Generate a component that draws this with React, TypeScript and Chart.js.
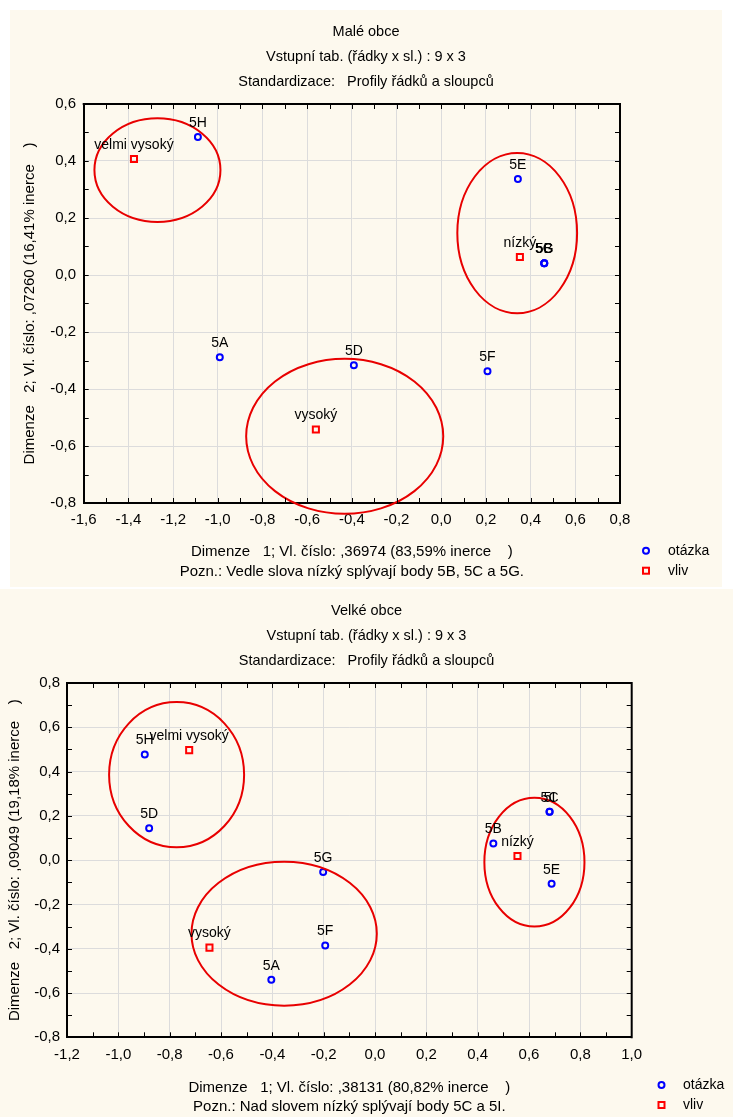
import React, { useEffect, useRef } from 'react';
import { Chart, registerables } from 'chart.js';

Chart.register(...registerables);

const FONT = "'Liberation Sans', Arial, Helvetica, sans-serif";

// ---------- Malé obce (top chart) ----------
const smallTitle = ['Malé obce', 'Vstupní tab. (řádky x sl.) : 9 x 3', 'Standardizace:   Profily řádků a sloupců'];
const smallXTitle = ['Dimenze   1; Vl. číslo: ,36974 (83,59% inerce    )', 'Pozn.: Vedle slova nízký splývají body 5B, 5C a 5G.'];
const smallYTitle = 'Dimenze   2; Vl. číslo: ,07260 (16,41% inerce    )';
const smallQuestionLabels = ['5A', '5B', '5C', '5D', '5E', '5F', '5G', '5H'];
const smallQuestionX = [-0.991, 0.461, 0.461, -0.391, 0.343, 0.207, 0.461, -1.089];
const smallQuestionY = [-0.289, 0.041, 0.041, -0.317, 0.337, -0.338, 0.041, 0.484];
const smallInfluenceLabels = ['velmi vysoký', 'vysoký', 'nízký'];
const smallInfluenceX = [-1.375, -0.561, 0.352];
const smallInfluenceY = [0.407, -0.542, 0.063];
const smallEllipseCx = [-1.27, 0.34, -0.432];
const smallEllipseCy = [0.368, 0.147, -0.566];
const smallEllipseRx = [0.282, 0.268, 0.441];
const smallEllipseRy = [0.182, 0.281, 0.272];
const smallXRange = [-1.6, 0.8];
const smallYRange = [-0.8, 0.6];

// ---------- Velké obce (bottom chart) ----------
const bigTitle = ['Velké obce', 'Vstupní tab. (řádky x sl.) : 9 x 3', 'Standardizace:   Profily řádků a sloupců'];
const bigXTitle = ['Dimenze   1; Vl. číslo: ,38131 (80,82% inerce    )', 'Pozn.: Nad slovem nízký splývají body 5C a 5I.'];
const bigYTitle = 'Dimenze   2; Vl. číslo: ,09049 (19,18% inerce    )';
const bigQuestionLabels = ['5A', '5B', '5C', '5D', '5E', '5F', '5G', '5H', '5I'];
const bigQuestionX = [-0.404, 0.461, 0.68, -0.88, 0.688, -0.194, -0.202, -0.897, 0.68];
const bigQuestionY = [-0.54, 0.075, 0.219, 0.144, -0.107, -0.386, -0.053, 0.477, 0.219];
const bigInfluenceLabels = ['velmi vysoký', 'vysoký', 'nízký'];
const bigInfluenceX = [-0.724, -0.645, 0.555];
const bigInfluenceY = [0.497, -0.395, 0.019];
const bigEllipseCx = [-0.773, 0.621, -0.354];
const bigEllipseCy = [0.386, -0.009, -0.332];
const bigEllipseRx = [0.263, 0.195, 0.361];
const bigEllipseRy = [0.328, 0.291, 0.325];
const bigXRange = [-1.2, 1.0];
const bigYRange = [-0.8, 0.8];

const legendNames = ['otázka', 'vliv'];

const CREAM = '#fdf9ee';
const BLUE = '#0000ff';
const RED = '#ff0000';
const ELLIPSE_RED = '#e80000';

function fmt(v: number | string) {
  const n = Number(v);
  if (Math.abs(n) < 1e-9) return '0,0';
  return n.toFixed(1).replace('.', ',');
}

const decorPlugin = {
  id: 'decor',
  afterDatasetsDraw(chart: any, _args: any, opts: any) {
    const { ctx, chartArea } = chart;
    const { left, right, top, bottom } = chartArea;
    const xs = chart.scales.x;
    const ys = chart.scales.y;
    ctx.save();

    // ellipses
    ctx.strokeStyle = ELLIPSE_RED;
    ctx.lineWidth = 2;
    const e = opts.ellipses;
    for (let i = 0; i < e.cx.length; i++) {
      const cx = xs.getPixelForValue(e.cx[i]);
      const cy = ys.getPixelForValue(e.cy[i]);
      const rx = Math.abs(xs.getPixelForValue(e.cx[i] + e.rx[i]) - cx);
      const ry = Math.abs(ys.getPixelForValue(e.cy[i] + e.ry[i]) - cy);
      ctx.beginPath();
      ctx.ellipse(cx, cy, rx, ry, 0, 0, Math.PI * 2);
      ctx.stroke();
    }

    // frame (top & right)
    ctx.strokeStyle = '#000';
    ctx.lineWidth = 2;
    ctx.beginPath();
    ctx.moveTo(left - 1, top);
    ctx.lineTo(right, top);
    ctx.lineTo(right, bottom + 1);
    ctx.stroke();

    // inner ticks every 0.1
    ctx.lineWidth = 1;
    ctx.beginPath();
    const nx = Math.round((xs.max - xs.min) / 0.1);
    for (let i = 1; i < nx; i++) {
      const px = Math.round(xs.getPixelForValue(xs.min + i * 0.1)) + 0.5;
      ctx.moveTo(px, top);
      ctx.lineTo(px, top + 5);
      ctx.moveTo(px, bottom);
      ctx.lineTo(px, bottom - 5);
    }
    const ny = Math.round((ys.max - ys.min) / 0.1);
    for (let i = 1; i < ny; i++) {
      const py = Math.round(ys.getPixelForValue(ys.min + i * 0.1)) + 0.5;
      ctx.moveTo(left, py);
      ctx.lineTo(left + 5, py);
      ctx.moveTo(right, py);
      ctx.lineTo(right - 5, py);
    }
    ctx.stroke();

    // point labels
    ctx.fillStyle = '#000';
    ctx.font = `14px ${FONT}`;
    ctx.textAlign = 'center';
    ctx.textBaseline = 'middle';
    chart.data.datasets.forEach((ds: any, di: number) => {
      const meta = chart.getDatasetMeta(di);
      meta.data.forEach((pt: any, j: number) => {
        ctx.fillText(ds.pointNames[j], pt.x, pt.y - 14);
      });
    });

    // legend
    const lx = right + opts.legendDx;
    const ly1 = bottom + opts.legendDy1;
    const ly2 = bottom + opts.legendDy2;
    ctx.lineWidth = 2;
    ctx.strokeStyle = BLUE;
    ctx.beginPath();
    ctx.arc(lx, ly1, 3, 0, Math.PI * 2);
    ctx.stroke();
    ctx.strokeStyle = RED;
    ctx.strokeRect(lx - 3, ly2 - 3, 6, 6);
    ctx.textAlign = 'left';
    ctx.fillStyle = '#000';
    ctx.fillText(legendNames[0], lx + opts.legendTextDx, ly1);
    ctx.fillText(legendNames[1], lx + opts.legendTextDx, ly2);
    ctx.restore();
  },
};

type ChartData = {
  title: string[];
  xTitle: string[];
  yTitle: string;
  qLabels: string[];
  qX: number[];
  qY: number[];
  vLabels: string[];
  vX: number[];
  vY: number[];
  eCx: number[];
  eCy: number[];
  eRx: number[];
  eRy: number[];
  xRange: number[];
  yRange: number[];
};

type Box = {
  left: number;
  top: number;
  width: number;
  height: number;
  yAxisWidth: number;
  xAxisHeight: number;
  padRight: number;
  xTickPad: number;
  yTickPad: number;
  xTitleLine: number;
  xTitlePadBottom: number;
  yTitlePadTop: number;
  legendDx: number;
  legendDy1: number;
  legendDy2: number;
  legendTextDx: number;
};

function CorrChart({ d, box }: { d: ChartData; box: Box }) {
  const ref = useRef<HTMLCanvasElement>(null);
  useEffect(() => {
    const chart = new Chart(ref.current as HTMLCanvasElement, {
      type: 'scatter',
      data: {
        datasets: [
          {
            label: legendNames[0],
            data: d.qX.map((x, i) => ({ x, y: d.qY[i] })),
            pointStyle: 'circle',
            pointRadius: 3,
            pointBorderWidth: 2,
            borderColor: BLUE,
            backgroundColor: 'rgba(0,0,0,0)',
            pointNames: d.qLabels,
          } as any,
          {
            label: legendNames[1],
            data: d.vX.map((x, i) => ({ x, y: d.vY[i] })),
            pointStyle: 'rect',
            pointRadius: 4.3,
            pointBorderWidth: 2,
            borderColor: RED,
            backgroundColor: 'rgba(0,0,0,0)',
            pointNames: d.vLabels,
          } as any,
        ],
      },
      options: {
        animation: false,
        responsive: false,
        maintainAspectRatio: false,
        devicePixelRatio: 1,
        events: [],
        layout: { padding: 0 },
        plugins: {
          legend: { display: false },
          tooltip: { enabled: false },
          title: {
            display: true,
            text: d.title,
            color: '#000',
            font: { family: FONT, size: 14.5, weight: 'normal', lineHeight: 25 / 14.5 },
            padding: { top: 9, bottom: 10 },
          },
          decor: {
            ellipses: { cx: d.eCx, cy: d.eCy, rx: d.eRx, ry: d.eRy },
            legendDx: box.legendDx,
            legendDy1: box.legendDy1,
            legendDy2: box.legendDy2,
            legendTextDx: box.legendTextDx,
          },
        } as any,
        scales: {
          x: {
            type: 'linear',
            min: d.xRange[0],
            max: d.xRange[1],
            ticks: {
              stepSize: 0.2,
              callback: (v: any) => fmt(v),
              color: '#000',
              font: { family: FONT, size: 15 },
              padding: box.xTickPad,
              maxRotation: 0,
            },
            grid: { color: '#dcdcdc', lineWidth: 1, drawTicks: false },
            border: { display: true, color: '#000', width: 2 },
            title: {
              display: true,
              text: d.xTitle,
              color: '#000',
              font: { family: FONT, size: 15, lineHeight: box.xTitleLine / 15 },
              padding: { top: 0, bottom: box.xTitlePadBottom },
            },
            afterFit: (s: any) => {
              s.height = box.xAxisHeight;
            },
          },
          y: {
            type: 'linear',
            min: d.yRange[0],
            max: d.yRange[1],
            ticks: {
              stepSize: 0.2,
              callback: (v: any) => fmt(v),
              color: '#000',
              font: { family: FONT, size: 15 },
              padding: box.yTickPad,
            },
            grid: { color: '#dcdcdc', lineWidth: 1, drawTicks: false },
            border: { display: true, color: '#000', width: 2 },
            title: {
              display: true,
              text: d.yTitle,
              color: '#000',
              font: { family: FONT, size: 15, lineHeight: 20 / 15 },
              padding: { top: box.yTitlePadTop, bottom: 0 },
            },
            afterFit: (s: any) => {
              s.width = box.yAxisWidth;
            },
          },
          margin: {
            type: 'linear',
            position: 'right',
            display: true,
            ticks: { display: false },
            grid: { display: false, drawTicks: false },
            border: { display: false },
            title: { display: false },
            afterFit: (s: any) => {
              s.width = box.padRight;
            },
          },
        } as any,
      },
      plugins: [decorPlugin as any],
    });
    return () => chart.destroy();
  }, [d, box]);
  return (
    <canvas
      ref={ref}
      width={box.width}
      height={box.height}
      style={{
        position: 'absolute',
        left: box.left,
        top: box.top,
        width: box.width,
        height: box.height,
        background: CREAM,
      }}
    />
  );
}

const smallData: ChartData = {
  title: smallTitle,
  xTitle: smallXTitle,
  yTitle: smallYTitle,
  qLabels: smallQuestionLabels,
  qX: smallQuestionX,
  qY: smallQuestionY,
  vLabels: smallInfluenceLabels,
  vX: smallInfluenceX,
  vY: smallInfluenceY,
  eCx: smallEllipseCx,
  eCy: smallEllipseCy,
  eRx: smallEllipseRx,
  eRy: smallEllipseRy,
  xRange: smallXRange,
  yRange: smallYRange,
};

const bigData: ChartData = {
  title: bigTitle,
  xTitle: bigXTitle,
  yTitle: bigYTitle,
  qLabels: bigQuestionLabels,
  qX: bigQuestionX,
  qY: bigQuestionY,
  vLabels: bigInfluenceLabels,
  vX: bigInfluenceX,
  vY: bigInfluenceY,
  eCx: bigEllipseCx,
  eCy: bigEllipseCy,
  eRx: bigEllipseRx,
  eRy: bigEllipseRy,
  xRange: bigXRange,
  yRange: bigYRange,
};

const smallBox: Box = {
  left: 10,
  top: 10,
  width: 712,
  height: 577,
  yAxisWidth: 73.7,
  xAxisHeight: 84,
  padRight: 102,
  xTickPad: 8,
  yTickPad: 7.7,
  xTitleLine: 20,
  xTitlePadBottom: 5.3,
  yTitlePadTop: 10,
  legendDx: 26,
  legendDy1: 47.7,
  legendDy2: 67.7,
  legendTextDx: 22,
};

const bigBox: Box = {
  left: 0,
  top: 589,
  width: 733,
  height: 528,
  yAxisWidth: 67,
  xAxisHeight: 79.7,
  padRight: 101.3,
  xTickPad: 8.7,
  yTickPad: 7,
  xTitleLine: 19,
  xTitlePadBottom: 0.8,
  yTitlePadTop: 5,
  legendDx: 29.8,
  legendDy1: 47.7,
  legendDy2: 67.7,
  legendTextDx: 21.5,
};

export default function App() {
  return (
    <div style={{ position: 'absolute', left: 0, top: 0, width: 733, height: 1117, background: '#fff', overflow: 'hidden' }}>
      <CorrChart d={smallData} box={smallBox} />
      <CorrChart d={bigData} box={bigBox} />
    </div>
  );
}
